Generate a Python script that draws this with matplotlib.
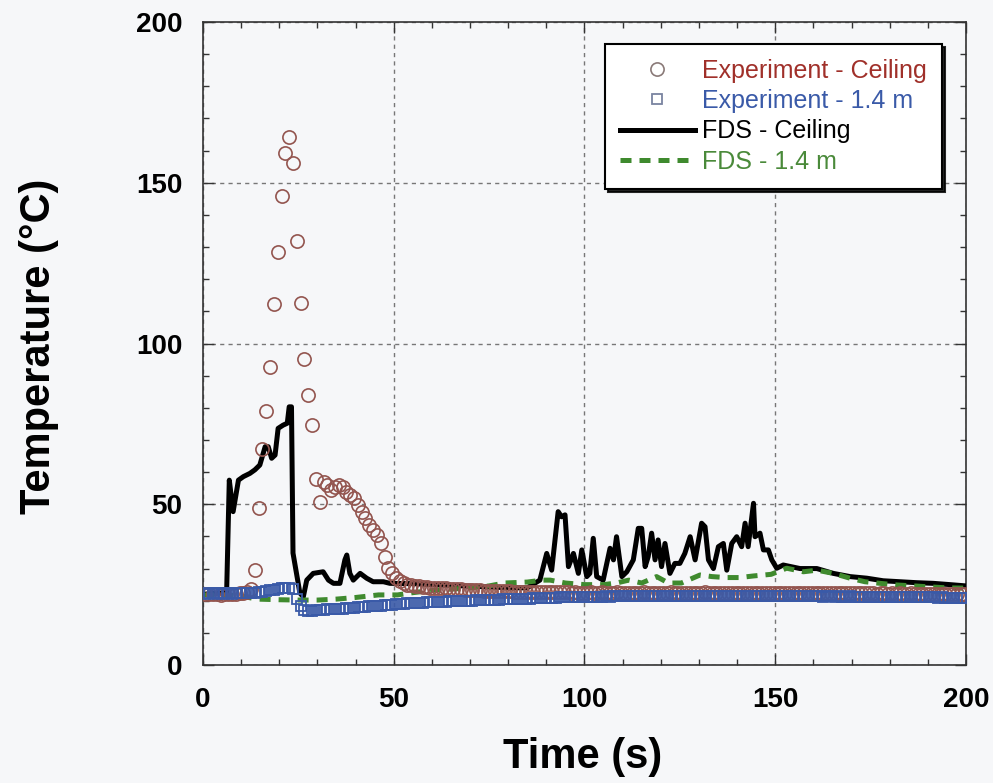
import matplotlib
matplotlib.use("Agg")
import matplotlib.pyplot as plt
import numpy as np
from matplotlib.ticker import MultipleLocator

plt.rcParams["font.family"] = ["Liberation Sans", "DejaVu Sans"]

# experiment: one sample per second, starting at 0.6 s
exp_time = np.arange(200) + 0.6
exp_ceiling = [
    22.1, 22.0, 22.2, 22.0, 21.9, 22.1, 22.0, 22.2, 22.1, 22.3,
    22.4, 22.8, 23.6, 29.5, 48.7, 67.2, 79.1, 92.6, 112.3, 128.4,
    145.9, 159.2, 164.1, 156.0, 132.0, 112.6, 95.3, 84.0, 74.7, 58.0,
    50.8, 57.0, 56.0, 54.4, 55.5, 56.0, 55.5, 53.9, 52.9, 51.8,
    49.8, 47.7, 45.6, 43.5, 42.0, 40.4, 37.9, 33.7, 30.1, 28.5,
    27.0, 26.0, 25.4, 25.0, 24.8, 24.6, 24.5, 24.3, 24.2, 24.1,
    24.0, 23.9, 23.8, 23.8, 23.7, 23.6, 23.5, 23.5, 23.4, 23.3,
    23.3, 23.2, 23.2, 23.1, 23.1, 23.0, 23.0, 23.0, 22.9, 22.9,
    22.9, 22.8, 22.8, 22.8, 22.8, 22.7, 22.7, 22.7, 22.7, 22.7,
    22.6, 22.7, 22.6, 22.6, 22.6, 22.6, 22.5, 22.6, 22.5, 22.5,
    22.5, 22.6, 22.5, 22.5, 22.6, 22.5, 22.5, 22.5, 22.6, 22.5,
    22.5, 22.5, 22.4, 22.5, 22.5, 22.6, 22.5, 22.5, 22.4, 22.5,
    22.5, 22.5, 22.6, 22.5, 22.5, 22.4, 22.5, 22.5, 22.5, 22.4,
    22.5, 22.6, 22.5, 22.5, 22.5, 22.4, 22.5, 22.5, 22.4, 22.5,
    22.5, 22.5, 22.4, 22.5, 22.5, 22.4, 22.5, 22.4, 22.4, 22.5,
    22.4, 22.4, 22.5, 22.4, 22.4, 22.4, 22.5, 22.4, 22.4, 22.3,
    22.4, 22.4, 22.3, 22.4, 22.4, 22.3, 22.4, 22.3, 22.3, 22.4,
    22.3, 22.3, 22.4, 22.3, 22.3, 22.3, 22.2, 22.3, 22.3, 22.2,
    22.3, 22.2, 22.3, 22.2, 22.2, 22.3, 22.2, 22.2, 22.1, 22.2,
    22.2, 22.1, 22.2, 22.1, 22.1, 22.2, 22.1, 22.0, 22.1, 22.0,
]
exp_14m = [
    22.3, 22.2, 22.4, 22.3, 22.2, 22.3, 22.4, 22.2, 22.3, 22.3,
    22.4, 22.3, 22.5, 22.4, 22.6, 22.8, 23.0, 23.2, 23.4, 23.6,
    23.8, 24.0, 24.1, 23.6, 20.5, 18.4, 17.2, 16.8, 16.9, 17.0,
    17.1, 17.2, 17.3, 17.3, 17.4, 17.5, 17.5, 17.6, 17.7, 17.8,
    17.9, 18.0, 18.1, 18.2, 18.3, 18.4, 18.5, 18.6, 18.7, 18.8,
    18.9, 19.0, 19.1, 19.2, 19.2, 19.3, 19.4, 19.4, 19.5, 19.5,
    19.6, 19.6, 19.7, 19.7, 19.8, 19.8, 19.9, 19.9, 20.0, 20.0,
    20.0, 20.1, 20.1, 20.2, 20.2, 20.2, 20.3, 20.3, 20.4, 20.4,
    20.4, 20.5, 20.5, 20.6, 20.6, 20.6, 20.7, 20.7, 20.8, 20.8,
    20.8, 20.9, 20.9, 21.0, 21.0, 21.0, 21.1, 21.1, 21.2, 21.2,
    21.2, 21.3, 21.2, 21.3, 21.3, 21.4, 21.3, 21.4, 21.4, 21.4,
    21.5, 21.4, 21.5, 21.5, 21.4, 21.5, 21.5, 21.6, 21.5, 21.5,
    21.6, 21.5, 21.5, 21.6, 21.6, 21.5, 21.6, 21.5, 21.6, 21.6,
    21.5, 21.6, 21.6, 21.5, 21.6, 21.6, 21.5, 21.6, 21.5, 21.5,
    21.6, 21.5, 21.5, 21.6, 21.5, 21.5, 21.5, 21.4, 21.5, 21.5,
    21.5, 21.4, 21.5, 21.5, 21.4, 21.5, 21.4, 21.4, 21.5, 21.4,
    21.4, 21.4, 21.3, 21.4, 21.4, 21.3, 21.4, 21.3, 21.3, 21.4,
    21.3, 21.3, 21.2, 21.3, 21.3, 21.2, 21.2, 21.3, 21.2, 21.2,
    21.2, 21.1, 21.2, 21.1, 21.1, 21.2, 21.1, 21.0, 21.1, 21.0,
    21.0, 21.0, 20.9, 21.0, 20.9, 20.9, 20.8, 20.9, 20.8, 20.8,
]

# FDS ceiling thermocouple
fds_ceil_time = [
    0.0, 6.2, 6.9, 7.9, 9.3, 10.6, 12.3, 13.6, 14.9, 16.3, 17.1, 18.0,
    18.9, 19.7, 21.0, 22.1, 22.6, 23.2, 23.6, 25.4, 26.3, 27.2, 28.9,
    31.5, 32.9, 34.2, 35.9, 37.2, 37.7, 38.5, 39.4, 41.2, 42.9, 44.6,
    47.3, 49.0, 55.0, 60.0, 65.0, 70.0, 75.0, 80.0, 85.0, 88.3, 90.1,
    91.4, 93.1, 94.0, 94.9, 95.8, 97.1, 98.4, 99.3, 100.6, 101.4, 102.3,
    103.2, 104.9, 106.7, 107.6, 108.4, 109.8, 111.1, 112.8, 114.1, 115.0,
    115.9, 116.7, 117.6, 118.5, 119.3, 120.2, 121.1, 122.4, 123.7, 125.0,
    126.3, 127.7, 129.0, 130.7, 131.6, 132.5, 133.8, 135.1, 136.4, 137.3,
    138.6, 139.9, 141.2, 142.1, 142.9, 144.3, 144.7, 146.0, 146.9, 148.2,
    149.1, 150.4, 152.1, 156.5, 160.9, 165.2, 169.6, 174.0, 178.3, 182.7,
    187.1, 191.4, 195.8, 200.0,
]
fds_ceil = [
    22.0, 22.5, 57.5, 47.7, 57.5, 58.6, 59.6, 60.7, 62.2, 67.9, 67.9, 64.3,
    65.3, 73.6, 74.6, 75.2, 80.3, 80.3, 34.8, 22.4, 21.2, 26.4, 28.5,
    29.0, 26.4, 25.4, 25.4, 32.7, 34.2, 28.5, 26.4, 28.5, 27.0, 25.9,
    25.9, 25.4, 25.3, 25.0, 24.8, 24.5, 24.3, 24.0, 24.0, 26.4, 34.7,
    29.5, 47.7, 46.1, 46.7, 30.6, 34.7, 28.5, 35.8, 27.5, 28.5, 39.4,
    27.5, 26.4, 36.3, 32.7, 39.9, 27.5, 29.0, 32.7, 42.5, 42.5,
    30.6, 33.7, 41.0, 32.7, 38.9, 30.6, 37.8, 28.5, 31.6, 31.6,
    34.7, 39.9, 32.7, 44.1, 43.0, 32.7, 30.0, 36.8, 37.8, 29.5,
    37.8, 39.9, 36.8, 44.1, 36.8, 50.3, 39.9, 41.0, 35.8, 35.8,
    32.7, 30.1, 31.1, 30.0, 30.0, 28.5, 27.5, 27.0, 26.2, 25.9,
    25.6, 25.4, 25.0, 24.6,
]

# FDS 1.4 m thermocouple
fds_14m_time = [
    0, 5, 10, 14, 20, 25, 30, 35, 40, 46, 51, 55, 60, 65, 70, 75, 79, 85,
    89, 91, 95, 100, 105, 108.4, 111.6, 115, 118.9, 122, 125.4, 130.3,
    133.4, 137, 140.7, 144.3, 148.9, 153, 157.4, 160.9, 165.2, 169.6,
    173.5, 177.5, 181.8, 186.2, 190.6, 194.9, 200,
]
fds_14m = [
    21.8, 21.8, 21.5, 20.5, 20.3, 20.2, 20.2, 20.5, 21.0, 21.8, 21.8, 22.5,
    23.2, 23.6, 24.0, 24.6, 25.5, 25.8, 26.4, 26.4, 25.5, 25.0, 25.0, 25.5,
    26.4, 25.5, 27.5, 25.5, 25.5, 28.0, 27.5, 27.2, 27.2, 27.7, 28.2, 30.1,
    29.0, 29.5, 28.5, 27.0, 25.9, 25.4, 24.9, 24.6, 24.3, 24.0, 23.9,
]

bg = "#f6f7f9"
fig = plt.figure(figsize=(9.93, 7.83), dpi=100, facecolor=bg)
ax = fig.add_axes([0.2044, 0.1507, 0.7684, 0.8212], facecolor=bg)

ax.plot(fds_ceil_time, fds_ceil, color="black", lw=3.6, zorder=3,
        label="FDS - Ceiling")
ax.plot(fds_14m_time, fds_14m, color="#3f8a2e", lw=3.6, ls=(0, (2.2, 1.6)),
        zorder=4, label="FDS - 1.4 m")
ax.plot(exp_time, exp_ceiling, ls="none", marker="o", ms=9.5, mfc="none",
        mec="#93554f", mew=1.2, zorder=5, label="Experiment - Ceiling")
ax.plot(exp_time, exp_14m, ls="none", marker="s", ms=7, mfc="none",
        mec="#3a5aa8", mew=1.3, zorder=6, label="Experiment - 1.4 m")

ax.set_xlim(0, 200)
ax.set_ylim(0, 200)
ax.xaxis.set_major_locator(MultipleLocator(50))
ax.yaxis.set_major_locator(MultipleLocator(50))
ax.xaxis.set_minor_locator(MultipleLocator(10))
ax.yaxis.set_minor_locator(MultipleLocator(10))
ax.tick_params(which="both", direction="in", top=True, right=True,
               color="#333333")
ax.tick_params(which="major", length=8, width=1)
ax.tick_params(which="minor", length=4, width=1)
ax.tick_params(axis="x", pad=16)
ax.tick_params(axis="y", pad=15)
for lab in ax.get_xticklabels() + ax.get_yticklabels():
    lab.set_fontsize(20)
    lab.set_fontweight("bold")

ax.grid(True, which="major", color="#777777", ls=(0, (3, 3)), lw=1)
for s in ax.spines.values():
    s.set_color("#333333")
    s.set_linewidth(1.2)

ax.set_xlabel("Time (s)", fontsize=30, fontweight="bold")
ax.set_ylabel("Temperature (°C)", fontsize=30, fontweight="bold")
ax.xaxis.set_label_coords(0.497, -0.112)
ax.yaxis.set_label_coords(-0.189, 0.495)

handles, labels = ax.get_legend_handles_labels()
order = [2, 3, 0, 1]
leg = ax.legend([handles[i] for i in order], [labels[i] for i in order],
                loc="upper right", bbox_to_anchor=(0.9686, 0.9658),
                borderaxespad=0, fontsize=18, handlelength=3.0,
                handletextpad=0.3, labelspacing=0.25, borderpad=0.6,
                fancybox=False, framealpha=1, edgecolor="black",
                shadow={"color": "black", "alpha": 0.85})
leg.get_frame().set_linewidth(1.5)
leg.get_frame().set_facecolor("white")
leg_colors = ["#a0302a", "#3a5aa8", "black", "#4a8a3a"]
for txt, c in zip(leg.get_texts(), leg_colors):
    txt.set_color(c)
leg.legend_handles[0].set_markeredgecolor("#8a7a78")
leg.legend_handles[1].set_markeredgecolor("#7a84a0")

fig.savefig("out.png", dpi=100, facecolor=bg)
